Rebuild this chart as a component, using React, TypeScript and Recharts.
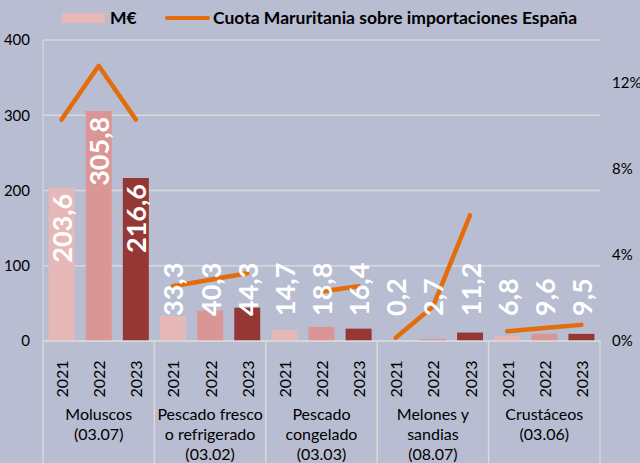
import React from 'react';
import { ComposedChart, Bar, Line, XAxis, YAxis, CartesianGrid, Cell, LabelList } from 'recharts';

// Export values per product group, million euro, years 2021-2023
const categories = [
  ['Moluscos', '(03.07)'],
  ['Pescado fresco', 'o refrigerado', '(03.02)'],
  ['Pescado', 'congelado', '(03.03)'],
  ['Melones y', 'sandias', '(08.07)'],
  ['Crustáceos', '(03.06)'],
];
const years = ['2021', '2022', '2023'];
const millones = [
  [203.6, 305.8, 216.6],
  [33.3, 40.3, 44.3],
  [14.7, 18.8, 16.4],
  [0.2, 2.7, 11.2],
  [6.8, 9.6, 9.5],
];
// share of Mauritania in Spanish imports, %
const cuota = [
  [10.3, 12.8, 10.3],
  [2.55, 2.85, 3.15],
  [null, 2.3, 2.55],
  [0.15, 1.6, 5.85],
  [0.45, 0.6, 0.75],
];
const leftTicks = [0, 100, 200, 300, 400];
const rightTicks = [0, 4, 8, 12];

const colors = {
  bg: '#b8bdd2',
  grid: '#d9d9d9',
  years: ['#e6b9b8', '#d99694', '#953735'],
  line: '#e46c0a',
  text: '#000000',
};

const FONT = 'Lato, "Open Sans", sans-serif';
const W = 640;
const H = 463;
const M = { top: 40, right: 0, bottom: 0, left: 0 };
const LEFT_W = 43;
const RIGHT_W = 40;
const PLOT_W = W - LEFT_W - RIGHT_W;
const AXIS_Y = 341;

const rows = categories.flatMap((cat, g) =>
  years.map((year, k) => {
    const row: Record<string, any> = { key: `${g}-${year}`, year, g, k, value: millones[g][k] };
    row[`c${g}`] = cuota[g][k];
    return row;
  })
);

const fmt = (v: number) => v.toFixed(1).replace('.', ',');

const XTick = (props: any) => {
  const { x, index } = props;
  const slot = PLOT_W / rows.length;
  const g = Math.floor(index / 3);
  const k = index % 3;
  return (
    <g>
      <text
        x={x}
        y={379}
        transform={`rotate(-90, ${x}, 379)`}
        textAnchor="middle"
        dominantBaseline="central"
        fontSize={16}
        fontFamily={FONT}
        fill={colors.text}
      >
        {years[k]}
      </text>
      {k === 0 && <line x1={x - slot / 2} x2={x - slot / 2} y1={AXIS_Y} y2={H} stroke={colors.grid} strokeWidth={1.5} />}
      {index === rows.length - 1 && (
        <line x1={x + slot / 2} x2={x + slot / 2} y1={AXIS_Y} y2={H} stroke={colors.grid} strokeWidth={1.5} />
      )}
      {k === 1 &&
        categories[g].map((t, i) => (
          <text
            key={i}
            x={x}
            y={413 + i * 20}
            textAnchor="middle"
            dominantBaseline="central"
            fontSize={16}
            fontFamily={FONT}
            fill={colors.text}
          >
            {t}
          </text>
        ))}
    </g>
  );
};

const BarLabel = (props: any) => {
  const { x, y, width, height, value } = props;
  const cx = x + width / 2;
  const inside = height > 90;
  const ty = inside ? y + 6 : 316;
  return (
    <text
      x={cx}
      y={ty}
      transform={`rotate(-90, ${cx}, ${ty})`}
      textAnchor={inside ? 'end' : 'start'}
      dominantBaseline="central"
      fontSize={27}
      fontWeight="bold"
      fontFamily={FONT}
      fill="#ffffff"
    >
      {fmt(value)}
    </text>
  );
};

const ChartLegend = () => (
  <div
    style={{
      position: 'absolute',
      left: 0,
      top: 0,
      width: W,
      height: 34,
      fontFamily: FONT,
      fontWeight: 'bold',
      fontSize: 17.5,
      color: colors.text,
    }}
  >
    <div style={{ position: 'absolute', left: 62, top: 13, width: 43, height: 10, background: colors.years[0] }} />
    <span style={{ position: 'absolute', left: 110, top: 6, lineHeight: '24px' }}>M€</span>
    <div style={{ position: 'absolute', left: 165, top: 16, width: 45, height: 4, borderRadius: 2, background: colors.line }} />
    <span style={{ position: 'absolute', left: 213, top: 6, lineHeight: '24px', whiteSpace: 'nowrap' }}>
      Cuota Maruritania sobre importaciones España
    </span>
  </div>
);

export default function App() {
  return (
    <div style={{ position: 'absolute', left: 0, top: 0, width: W, height: H, background: colors.bg }}>
      <ComposedChart width={W} height={H} data={rows} margin={M} barCategoryGap="15%">
        <CartesianGrid horizontal vertical={false} stroke={colors.grid} strokeWidth={1.5} yAxisId="left" />
        <XAxis
          dataKey="key"
          interval={0}
          height={H - AXIS_Y}
          tick={<XTick />}
          tickLine={false}
          axisLine={{ stroke: colors.grid, strokeWidth: 1.5 }}
        />
        <YAxis
          yAxisId="left"
          domain={[0, 400]}
          ticks={leftTicks}
          width={LEFT_W}
          tickSize={0}
          tickMargin={13}
          tick={{ fontSize: 15, fontFamily: FONT, fill: colors.text }}
          axisLine={{ stroke: colors.grid, strokeWidth: 1 }}
          tickLine={false}
        />
        <YAxis
          yAxisId="right"
          orientation="right"
          domain={[0, 14]}
          ticks={rightTicks}
          width={RIGHT_W}
          tickSize={0}
          tickMargin={12}
          tickFormatter={(v: number) => `${v}%`}
          tick={{ fontSize: 15, fontFamily: FONT, fill: colors.text, textAnchor: 'start' }}
          axisLine={false}
          tickLine={false}
        />
        <Bar yAxisId="left" dataKey="value" isAnimationActive={false}>
          {rows.map((r) => (
            <Cell key={r.key} fill={colors.years[r.k]} />
          ))}
          <LabelList dataKey="value" content={<BarLabel />} />
        </Bar>
        {categories.map((_, g) => (
          <Line
            key={g}
            yAxisId="right"
            dataKey={`c${g}`}
            stroke={colors.line}
            strokeWidth={4.5}
            strokeLinecap="round"
            strokeLinejoin="round"
            dot={false}
            activeDot={false}
            connectNulls={false}
            isAnimationActive={false}
          />
        ))}
      </ComposedChart>
      <ChartLegend />
    </div>
  );
}
